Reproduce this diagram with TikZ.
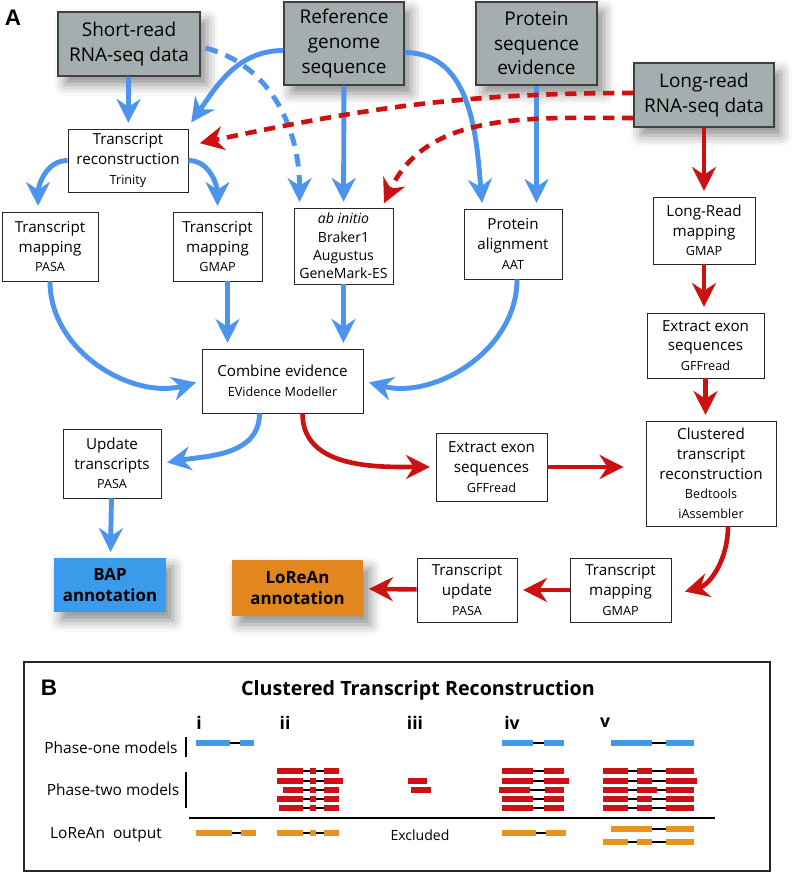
\documentclass[tikz,border=0pt]{standalone}
\usepackage{fontspec}
\setmainfont{Open Sans}
\newfontfamily\panelfont{Liberation Sans}
\usetikzlibrary{positioning}
\usetikzlibrary{arrows.meta}
\usetikzlibrary{calc}
\usetikzlibrary{shadows.blur}
\definecolor{seqgray}{HTML}{A4AEAE}
\definecolor{flowblue}{HTML}{4C94EC}
\definecolor{flowred}{HTML}{CC1111}
\definecolor{bapblue}{HTML}{3A9BEB}
\definecolor{loreanorange}{HTML}{E2871E}
\definecolor{exonblue}{HTML}{3E99E8}
\definecolor{exonred}{HTML}{CC1118}
\definecolor{exonorange}{HTML}{E69320}
\tikzset{>={Stealth[length=17pt,width=17pt,inset=5.5pt]}}
\tikzset{
  datasrc/.style={draw=black!75, line width=0.8pt, fill=seqgray, align=center,
    font=\fontsize{13.5}{17.5}\selectfont,
    blur shadow={shadow xshift=5pt, shadow yshift=-6pt, shadow blur radius=8pt, shadow opacity=45}},
  toolbox/.style={draw=black!85, line width=0.6pt, fill=white, align=center,
    font=\fontsize{10.8}{14}\selectfont, inner sep=1pt},
  result/.style={align=center, font=\fontsize{12}{15.5}\selectfont\bfseries,
    blur shadow={shadow xshift=5pt, shadow yshift=-6pt, shadow blur radius=8pt, shadow opacity=45}},
  blueflow/.style={draw=flowblue, line width=3.5pt, ->, shorten >=4pt},
  redflow/.style={draw=flowred, line width=3.3pt, ->, shorten >=4pt},
  bluedash/.style={dash pattern=on 9pt off 6pt},
  reddash/.style={dash pattern=on 8pt off 5.5pt},
  intron/.style={draw=black, line width=0.8pt},
}
\newcommand{\prog}[1]{{\fontsize{9}{12}\selectfont #1}}
% colour, y, intron start, intron end, exons
\newcommand{\genemodel}[5]{%
  \draw [intron] (#3,#2) -- (#4,#2);
  \foreach \a/\b in {#5} \fill [#1] (\a,{#2-2.8}) rectangle (\b,{#2+2.8});
}

\begin{document}
\begin{tikzpicture}[x=0.025cm, y=-0.025cm]
\useasboundingbox (0,0) rectangle (795,872);

% panel A
\node (lblA) at (13,18) {\panelfont\bfseries\fontsize{16}{16}\selectfont A};

\node (srna) [datasrc, minimum width=3.55cm, minimum height=1.6cm] at (129,44) {Short-read\\RNA-seq data};
\node (refg) [datasrc, minimum width=3.0cm, minimum height=2.075cm] at (344,43.5) {Reference\\genome\\sequence};
\node (prot) [datasrc, minimum width=3.025cm, minimum height=2.075cm] at (536.5,43.5) {Protein\\sequence\\evidence};
\node (lrna) [datasrc, minimum width=3.5cm, minimum height=1.6cm] at (704,95) {Long-read\\RNA-seq data};

\node (trec) [toolbox, minimum width=3.0cm, minimum height=1.575cm] at (128,160.5) {Transcript\\reconstruction\\\prog{Trinity}};
\node (tpasa) [toolbox, minimum width=2.4cm, minimum height=1.725cm] at (50,246.5) {Transcript\\mapping\\\prog{PASA}};
\node (tgmap) [toolbox, minimum width=2.225cm, minimum height=1.725cm] at (217.5,246.5) {Transcript\\mapping\\\prog{GMAP}};
\node (abin) [toolbox, minimum width=2.475cm, minimum height=1.9cm, font=\fontsize{10}{13}\selectfont] at (343.5,246) {\textit{ab initio}\\Braker1\\Augustus\\GeneMark-ES};
\node (palign) [toolbox, minimum width=2.45cm, minimum height=1.75cm] at (513,244) {Protein\\alignment\\\prog{AAT}};
\node (lrmap) [toolbox, minimum width=2.55cm, minimum height=1.675cm] at (704,230.5) {Long-Read\\mapping\\\prog{GMAP}};
\node (exr) [toolbox, minimum width=2.925cm, minimum height=1.625cm] at (705.5,345.5) {Extract exon\\sequences\\\prog{GFFread}};
\node (comb) [toolbox, minimum width=4.025cm, minimum height=1.6cm] at (282.5,381) {Combine evidence\\\prog{EVidence Modeller}};
\node (upd) [toolbox, minimum width=2.45cm, minimum height=1.725cm] at (112,463.5) {Update\\transcripts\\\prog{PASA}};
\node (exm) [toolbox, minimum width=2.775cm, minimum height=1.7cm] at (491.5,467) {Extract exon\\sequences\\\prog{GFFread}};
\node (clus) [toolbox, minimum width=3.25cm, minimum height=2.625cm] at (711,473.5) {Clustered\\transcript\\reconstruction\\\prog{Bedtools}\\\prog{iAssembler}};
\node (tmap2) [toolbox, minimum width=2.525cm, minimum height=1.6cm] at (620.5,590) {Transcript\\mapping\\\prog{GMAP}};
\node (tupd) [toolbox, minimum width=2.5cm, minimum height=1.6cm] at (467,590) {Transcript\\update\\\prog{PASA}};

\node (bap) [result, fill=bapblue, minimum width=2.8cm, minimum height=1.35cm] at (110,585) {BAP\\annotation};
\node (lorean) [result, fill=loreanorange, minimum width=3.275cm, minimum height=1.4cm] at (297.5,588) {LoReAn\\annotation};

% blue flow
\path [blueflow] (srna) -- (trec);
\path [blueflow, shorten >=1pt] ($(refg.west)+(0,7)$) to[out=180,in=55] ($(trec.north east)+(2,-5)$);
\path [blueflow, bluedash] ($(srna.east)+(5,4)$) to[out=-15,in=90] ($(abin.north west)+(6,0)$);
\path [blueflow] (refg) -- (abin);
\path [blueflow] ($(refg.east)+(0,9)$) to[out=0,in=95] ($(palign.north west)+(19,0)$);
\path [blueflow] (prot.south) -- (prot.south |- palign.north);
\path [blueflow] (trec.west) to[out=180,in=90] ($(tpasa.north)+(-12,0)$);
\path [blueflow] (trec.east) to[out=0,in=90] (tgmap.north);
\path [blueflow] (tpasa.south) to[out=-90,in=195] (comb.west);
\path [blueflow] ($(tgmap.south)+(10,0)$) coordinate (gm) -- (gm |- comb.north);
\path [blueflow] (abin.south) -- (abin.south |- comb.north);
\path [blueflow] ($(palign.south)+(4,0)$) to[out=-90,in=-15] (comb.east);
\path [blueflow] ($(comb.south)+(-23,0)$) to[out=-90,in=10] (upd.east);
\path [blueflow] (upd) -- (bap);

% red flow
\path [redflow, reddash, shorten >=1pt] ($(lrna.west)+(0,-2)$) to[out=180,in=12] ($(trec.east)+(10,-17)$);
\path [redflow, reddash, shorten >=1pt] ($(lrna.west)+(0,23)$) to[out=180,in=65] ($(abin.north east)+(-10,-3)$);
\path [redflow] (lrna) -- (lrmap);
\path [redflow] (lrmap.south) -- (lrmap.south |- exr.north);
\path [redflow] (exr.south) -- (exr.south |- clus.north);
\path [redflow] ($(comb.south)+(20,0)$) to[out=-90,in=180] (exm.west);
\path [redflow, shorten >=0.55cm] (exm.east) -- (exm.east -| clus.west);
\path [redflow] ($(clus.south)+(17,0)$) to[out=-90,in=15] ($(tmap2.east)+(8,3)$);
\path [redflow] (tmap2) -- (tupd);
\path [redflow] (tupd) -- (lorean);

% panel B
\draw [line width=1.4pt, black!85] (24,662) rectangle (770,871);
\node (lblB) at (49,688) {\panelfont\bfseries\fontsize{16}{16}\selectfont B};
\node (ctitle) at (418,690) {\fontsize{14}{16}\selectfont\bfseries Clustered Transcript Reconstruction};
\foreach \x/\r in {199/i, 285/ii, 415/iii, 512/iv, 605/v}
  \node (num\r) at (\x,723) {\fontsize{12.5}{14}\selectfont\bfseries \r};

\node (phone) at (111,748) {\fontsize{11}{13}\selectfont Phase-one models};
\node (phtwo) at (113,790) {\fontsize{11}{13}\selectfont Phase-two models};
\node (lout) at (106,835) {\fontsize{11}{13}\selectfont LoReAn~ output};
\node (excl) at (420,835) {\fontsize{10}{12}\selectfont Excluded};
\draw [line width=0.8pt] (186,737) -- (186,757);
\draw [line width=0.8pt] (186,772) -- (186,808);
\draw [line width=1.6pt] (189,818) -- (715,818);

% phase-one models
\genemodel{exonblue}{743}{230}{240}{196/230, 240/254}
\genemodel{exonblue}{743}{533}{544}{502/533, 544/564}
\genemodel{exonblue}{743}{652}{666}{611/652, 666/694}

% phase-two models
\genemodel{exonred}{771}{303}{324}{277/303, 310/316, 324/339}
\genemodel{exonred}{781}{303}{324}{277/303, 310/316, 324/343}
\genemodel{exonred}{790}{303}{324}{283/303, 310/316, 324/339}
\genemodel{exonred}{799}{303}{324}{277/303, 310/316, 324/339}
\genemodel{exonred}{808}{303}{324}{279/303, 310/316, 324/339}
\fill [exonred] (408,778.2) rectangle (427,783.8);
\fill [exonred] (411,787.2) rectangle (431,792.8);
\genemodel{exonred}{771}{533}{544}{502/533, 544/564}
\genemodel{exonred}{781}{533}{544}{502/533, 544/569}
\genemodel{exonred}{790}{530}{545}{499/530, 545/564}
\genemodel{exonred}{799}{533}{544}{502/533, 544/564}
\genemodel{exonred}{808}{533}{544}{502/533, 544/564}
\genemodel{exonred}{771}{628}{666}{603/628, 637/652, 666/694}
\genemodel{exonred}{781}{628}{666}{603/628, 637/652, 666/697}
\genemodel{exonred}{790}{628}{666}{603/628, 637/657, 666/694}
\genemodel{exonred}{799}{628}{666}{603/628, 637/652, 666/694}
\genemodel{exonred}{808}{628}{666}{603/628, 637/652, 666/694}

% LoReAn output
\genemodel{exonorange}{833}{232}{241}{196/232, 241/256}
\genemodel{exonorange}{833}{303}{324}{277/303, 310/316, 324/339}
\genemodel{exonorange}{833}{536}{546}{502/536, 546/566}
\genemodel{exonorange}{829}{652}{666}{611/652, 666/694}
\genemodel{exonorange}{842}{628}{666}{603/628, 637/652, 666/694}
\end{tikzpicture}
\end{document}
